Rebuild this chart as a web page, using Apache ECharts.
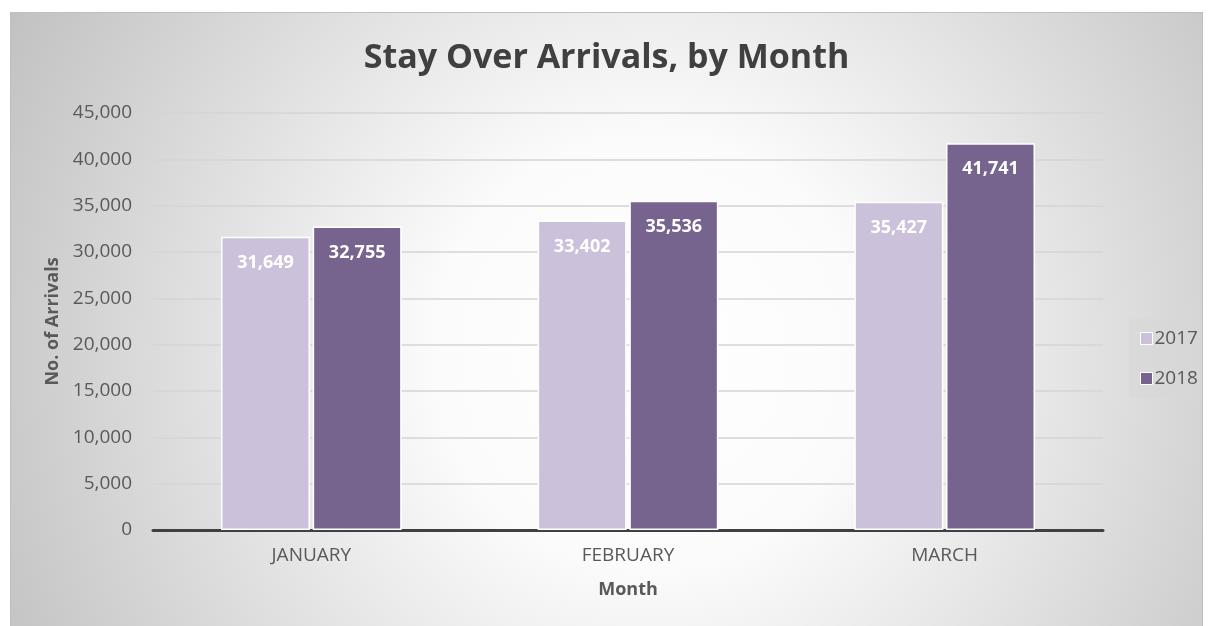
<!DOCTYPE html>
<html>
<head>
<meta charset="utf-8">
<script src="https://cdn.jsdelivr.net/npm/echarts@6/dist/echarts.min.js"></script>
<style>
  html, body { margin: 0; padding: 0; background: #ffffff; }
  #chart {
    position: absolute;
    left: 10px;
    top: 12px;
    width: 1193px;
    height: 614px;
    box-sizing: border-box;
    border: 1px solid #bfbfbf;
    border-bottom: none;
  }
</style>
</head>
<body>
<div id="chart"></div>
<script>
const months = ['JANUARY', 'FEBRUARY', 'MARCH']
const arrivals2017 = [31649, 33402, 35427]
const arrivals2018 = [32755, 35536, 41741]

const font = '"Open Sans", "Noto Sans", sans-serif'
const chart = echarts.init(document.getElementById('chart'))

const barLabel = {
  show: true,
  position: 'insideTop',
  distance: 17,
  color: '#ffffff',
  fontFamily: font,
  fontWeight: 'bold',
  fontSize: 18,
  formatter: (p) => p.value.toLocaleString('en-US'),
}

chart.setOption({
  backgroundColor: new echarts.graphic.RadialGradient(640, 340, 720, [
    { offset: 0, color: '#ffffff' },
    { offset: 0.3, color: '#fbfbfb' },
    { offset: 1, color: '#c2c2c2' },
  ], true),
  animation: false,
  textStyle: { fontFamily: font },
  title: {
    text: 'Stay Over Arrivals, by Month',
    left: 'center',
    top: 23,
    textStyle: { fontSize: 34, fontWeight: 'bold', color: '#404040', fontFamily: font },
  },
  legend: {
    orient: 'vertical',
    left: 1118,
    top: 306,
    padding: [10, 8, 10, 11],
    itemGap: 21,
    itemWidth: 12,
    itemHeight: 12,
    icon: 'rect',
    backgroundColor: 'rgba(215,215,215,0.55)',
    textStyle: { fontSize: 19, color: '#595959', padding: [0, 0, 0, -3] },
    itemStyle: { borderColor: '#ffffff', borderWidth: 1 },
    data: ['2017', '2018'],
  },
  grid: { left: 142, right: 99, top: 100, bottom: 96 },
  xAxis: {
    type: 'category',
    data: months,
    name: 'Month',
    nameLocation: 'middle',
    nameGap: 51,
    nameTextStyle: { fontSize: 18, fontWeight: 'bold', color: '#595959' },
    axisLine: { lineStyle: { color: '#404040', width: 3 } },
    axisTick: { show: false },
    axisLabel: { fontSize: 19, color: '#595959', margin: 16 },
  },
  yAxis: {
    type: 'value',
    min: 0,
    max: 45000,
    interval: 5000,
    name: 'No. of Arrivals',
    nameLocation: 'middle',
    nameGap: 86,
    nameTextStyle: { fontSize: 18, fontWeight: 'bold', color: '#595959' },
    axisLine: { show: false },
    axisTick: { show: false },
    axisLabel: {
      fontSize: 19,
      color: '#595959',
      margin: 21,
      formatter: (v) => v.toLocaleString('en-US'),
    },
    splitLine: { lineStyle: { color: '#d4d4d4', width: 1.5 } },
  },
  series: [
    {
      name: '2017',
      type: 'bar',
      data: arrivals2017,
      barWidth: 89,
      barGap: '3%',
      itemStyle: { color: '#cbc1da', borderColor: '#ffffff', borderWidth: 1.5 },
      label: barLabel,
    },
    {
      name: '2018',
      type: 'bar',
      data: arrivals2018,
      barWidth: 89,
      barGap: '3%',
      itemStyle: { color: '#76638e', borderColor: '#ffffff', borderWidth: 1.5 },
      label: barLabel,
    },
  ],
})
</script>
</body>
</html>
